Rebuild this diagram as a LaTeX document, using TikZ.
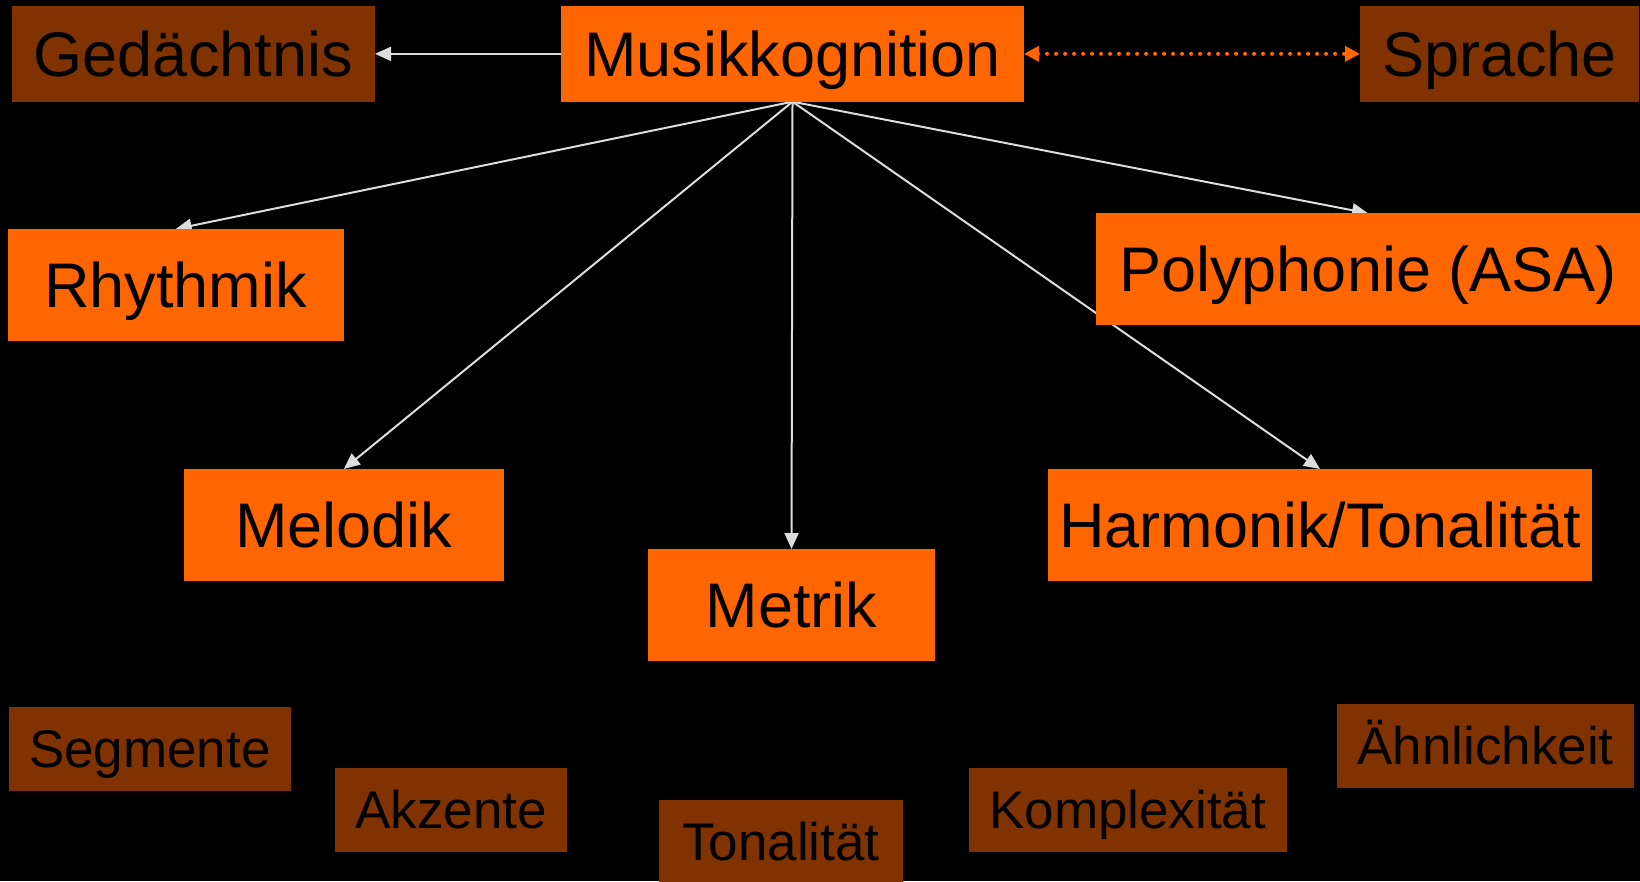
\documentclass[tikz,border=0pt]{standalone}
\usepackage{fontspec}
\setmainfont{Liberation Sans}
\usetikzlibrary{arrows.meta}
\pgfdeclarelayer{bg}
\pgfsetlayers{bg,main}
\definecolor{orng}{RGB}{255,102,0}
\definecolor{brwn}{RGB}{128,51,0}
\definecolor{arr}{RGB}{221,221,221}
\begin{document}
\begin{tikzpicture}[x=1pt,y=-1pt,
  box/.style={rectangle, inner sep=0pt, outer sep=0pt, anchor=center, text=black},
  bigtext/.style={font=\fontsize{63}{70}\selectfont, text height=45.1pt, text depth=0pt},
  smalltext/.style={font=\fontsize{53}{60}\selectfont, text height=37.9pt, text depth=0pt},
  mainbox/.style={box, bigtext, fill=orng},
  topbox/.style={box, bigtext, fill=brwn},
  subbox/.style={box, smalltext, fill=brwn},
  link/.style={draw=arr, line width=2pt, -{Triangle[length=16pt,width=14pt]}},
  biline/.style={draw=orng, line width=4pt, line cap=round, dash pattern=on 0pt off 9pt,
    {Triangle[length=15pt,width=15pt]}-{Triangle[length=15pt,width=15pt]}}
]
\useasboundingbox (0,0) rectangle (1640,881);

% top row
\node[topbox, minimum width=363.5pt, minimum height=95.7pt] (ged) at (193.25,53.85) {Gedächtnis};
\node[mainbox, minimum width=463pt, minimum height=95.7pt] (mk) at (792.5,53.85) {Musikkognition};
\node[topbox, minimum width=279pt, minimum height=95.7pt] (spr) at (1499.5,53.85) {Sprache};

% main areas
\node[mainbox, minimum width=335.8pt, minimum height=111.7pt] (rhy) at (175.7,284.85) {Rhythmik};
\node[mainbox, minimum width=544pt, minimum height=111.7pt] (poly) at (1368,269.15) {Polyphonie (ASA)};
\node[mainbox, minimum width=319.7pt, minimum height=111.7pt] (mel) at (343.85,524.85) {Melodik};
\node[mainbox, minimum width=287pt, minimum height=111.7pt] (met) at (791.5,604.85) {Metrik};
\node[mainbox, minimum width=544pt, minimum height=111.7pt] (harm) at (1320,524.85) {Harmonik/Tonalität};

% bottom concepts
\node[subbox, minimum width=281.9pt, minimum height=84pt] (seg) at (149.85,748.7) {Segmente};
\node[subbox, minimum width=232pt, minimum height=83.7pt] (akz) at (451,809.85) {Akzente};
\node[subbox, minimum width=243.6pt, minimum height=84pt] (ton) at (780.8,842) {Tonalität};
\node[subbox, minimum width=317.5pt, minimum height=83.7pt] (kom) at (1127.75,809.85) {Komplexität};
\node[subbox, minimum width=297pt, minimum height=83.7pt] (aeh) at (1485.5,745.85) {Ähnlichkeit};

\begin{pgfonlayer}{bg}
  \fill[black] (0,0) rectangle (1640,881);
  \draw[link] (mk.west) -- (ged.east);
  \draw[biline] (mk.east) -- (spr.west);
  \draw[link] (mk.south) -- (rhy.north);
  \draw[link] (mk.south) -- (mel.north);
  \draw[link] (mk.south) -- (met.north);
  \draw[link] (mk.south) -- (poly.north);
  \draw[link] (mk.south) -- (harm.north);
\end{pgfonlayer}
\end{tikzpicture}
\end{document}
